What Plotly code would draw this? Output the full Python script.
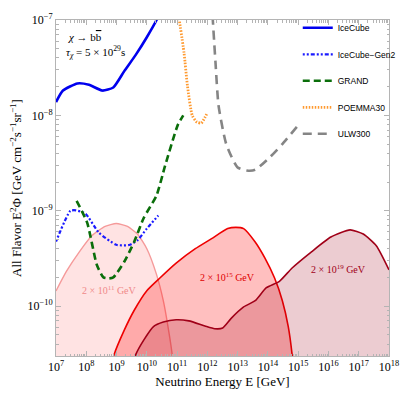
import plotly.graph_objects as go

# --- detector sensitivities (E in GeV, E^2 Phi in GeV cm^-2 s^-1 sr^-1) ---
icecube_e = [1e7, 1.7e7, 5.1e7, 1.23e8, 3.4e8, 7.8e8, 1.8e9, 4.3e9, 1e10, 2.1e10, 2.4e10]
icecube_f = [1.38e-8, 1.82e-8, 2.16e-8, 2.09e-8, 1.82e-8, 1.96e-8, 2.91e-8, 4.31e-8, 6.6e-8, 1.0e-7, 1.1e-7]

gen2_e = [1e7, 3.0e7, 4.6e7, 9.5e7, 2.6e8, 9.8e8, 2.6e9, 4.9e9, 1e10, 2.4e10]
gen2_f = [4.75e-10, 1.0e-9, 1.01e-9, 9.3e-10, 5.9e-10, 4.4e-10, 4.37e-10, 4.9e-10, 6.5e-10, 8.9e-10]

grand_e = [4.8e7, 1.07e8, 2.24e8, 3.7e8, 5.4e8, 7.8e8, 1.8e9, 3.8e9, 7.9e9, 2.1e10, 4e10, 1.05e11, 1.6e11]
grand_f = [1.27e-9, 7.5e-10, 2.7e-10, 2.0e-10, 1.95e-10, 2.0e-10, 2.92e-10, 4.7e-10, 8.4e-10, 1.45e-9, 2.95e-9, 7.9e-9, 1.0e-8]

poemma_e = [1.12e11, 1.7e11, 2.2e11, 3.16e11, 4.5e11, 6.3e11, 8.3e11, 9.8e11]
poemma_f = [1.12e-7, 4.5e-8, 2.04e-8, 1.0e-8, 8.5e-9, 8.3e-9, 9.5e-9, 1.05e-8]

ulw_e = [1.48e12, 1.86e12, 2.34e12, 4.2e12, 9.8e12, 2.0e13, 3.8e13, 1.15e14, 3.0e14, 9.1e14]
ulw_f = [1.12e-7, 3.55e-8, 1.27e-8, 5.0e-9, 2.86e-9, 2.64e-9, 2.69e-9, 3.63e-9, 5.0e-9, 7.6e-9]

# --- dark matter decay spectra for three masses ---
m11_e = [1e7, 2.2e7, 5.9e7, 1.55e8, 4.2e8, 9.8e8, 2.3e9, 4.9e9, 1e10, 2.1e10, 3.5e10, 5.0e10, 6.9e10, 7.9e10]
m11_f = [1.44e-10, 2.31e-10, 3.71e-10, 5.5e-10, 6.84e-10, 7.35e-10, 6.84e-10, 5.7e-10, 4.0e-10,
         2.14e-10, 1.14e-10, 6.1e-11, 3.1e-11, 2.0e-11]

m15_e = [7.1e8, 8.3e8, 1.8e9, 3.8e9, 1e10, 2.7e10, 9.3e10, 4.0e11, 1.38e12, 4.7e12, 8.7e12, 1.58e13,
         3.8e13, 7.9e13, 1.66e14, 3.0e14, 4.7e14, 6.3e14, 7.1e14]
m15_f = [2.5e-11, 3.1e-11, 5.6e-11, 9.0e-11, 1.45e-10, 1.97e-10, 2.82e-10, 4.0e-10, 5.1e-10, 6.5e-10,
         6.7e-10, 6.5e-10, 4.7e-10, 3.2e-10, 1.97e-10, 1.14e-10, 6.1e-11, 3.1e-11, 2.0e-11]

m19_e = [3.5e9, 4.3e9, 7.9e9, 1.66e10, 3.5e10, 9.3e10, 2.45e11, 8.3e11, 1.74e12, 3.2e12, 6.0e12, 1.58e13,
         3.8e13, 8.9e13, 2.4e14, 6.3e14, 2.75e15, 1.2e16, 5.2e16, 1.41e17, 3.8e17, 1e18]
m19_f = [2.5e-11, 3.1e-11, 4.4e-11, 6.1e-11, 6.8e-11, 7.2e-11, 7.0e-11, 6.2e-11, 5.8e-11, 5.9e-11, 7.4e-11,
         9.8e-11, 1.14e-10, 1.56e-10, 1.82e-10, 2.51e-10, 3.71e-10, 5.3e-10, 6.3e-10, 5.7e-10, 4.3e-10, 2.4e-10]

x_tick_exp = list(range(7, 19))
y_tick_exp = [-10, -9, -8, -7]

SERIF = "Liberation Serif, Times New Roman, serif"
SANS = "Liberation Sans, Arial, sans-serif"
FRAME = "#b4b4b4"
SMOOTH = 0.55

fig = go.Figure()

# filled spectra
spectra = [
    (m11_e, m11_f, "#f59a9a", "rgba(255,140,140,0.24)", 1.4),
    (m15_e, m15_f, "#ee0000", "rgba(255,0,0,0.25)", 1.6),
    (m19_e, m19_f, "#a00018", "rgba(160,0,24,0.2)", 1.6),
]
for xe, yf, lc, fc, lw in spectra:
    fig.add_trace(go.Scatter(
        x=xe, y=yf, mode="lines", fill="tozeroy", fillcolor=fc,
        line=dict(color=lc, width=lw, shape="spline", smoothing=SMOOTH),
        showlegend=False, hoverinfo="skip",
    ))

detectors = [
    ("IceCube", icecube_e, icecube_f, "#0000ee", "solid", 2.6),
    ("IceCube\u2212Gen2", gen2_e, gen2_f, "#1a1aff", "2px,2px,2px,2px,4px,2px", 2.2),
    ("GRAND", grand_e, grand_f, "#0a6e0a", "7px,4px", 2.6),
    ("POEMMA30", poemma_e, poemma_f, "#ff9a30", "1.5px,1.5px", 2.8),
    ("ULW300", ulw_e, ulw_f, "#858585", "9px,6px", 2.6),
]
for i, (name, xe, yf, col, dash, w) in enumerate(detectors):
    fig.add_trace(go.Scatter(
        x=xe, y=yf, mode="lines", name=name, legendgroup=f"g{i}",
        line=dict(color=col, dash=dash, width=w, shape="spline", smoothing=SMOOTH),
    ))

# mass labels
labels = [
    (8.76, -9.83, "2 \u00d7 10<sup>11</sup> GeV", "#f08a8a"),
    (12.66, -9.695, "2 \u00d7 10<sup>15</sup> GeV", "#e00000"),
    (16.34, -9.613, "2 \u00d7 10<sup>19</sup> GeV", "#a00018"),
]
for lx, ly, txt, col in labels:
    fig.add_annotation(x=lx, y=ly, text=txt, showarrow=False,
                       font=dict(family=SERIF, size=10, color=col))

fig.add_annotation(xref="paper", yref="paper", x=0.03, y=0.95, xanchor="left", yanchor="middle",
                   text="<i>\u03c7</i> \u2192 b<span style='text-decoration:overline'>b</span>",
                   showarrow=False, font=dict(family=SERIF, size=11, color="black"))
fig.add_annotation(xref="paper", yref="paper", x=0.025, y=0.905, xanchor="left", yanchor="middle",
                   text="<i>\u03c4<sub>\u03c7</sub></i> = 5 \u00d7 10<sup>29</sup>s",
                   showarrow=False, font=dict(family=SERIF, size=11, color="black"))

axis_common = dict(
    type="log", showgrid=False, zeroline=False,
    showline=True, linecolor=FRAME, linewidth=1, mirror="allticks",
    ticks="inside", ticklen=5, tickcolor=FRAME,
    minor=dict(ticks="inside", ticklen=2.5, tickcolor=FRAME, dtick="D1", showgrid=False),
    tickfont=dict(family=SERIF, size=12, color="black"),
)

fig.update_xaxes(
    **axis_common,
    range=[7, 18],
    tickmode="array",
    tickvals=[10 ** e for e in x_tick_exp],
    ticktext=[f"10<sup>{e}</sup>" for e in x_tick_exp],
    title=dict(text="Neutrino Energy E [GeV]", font=dict(family=SERIF, size=13, color="black"), standoff=2),
)
fig.update_yaxes(
    **axis_common,
    range=[-10.523, -7],
    tickmode="array",
    tickvals=[10.0 ** e for e in y_tick_exp],
    ticktext=[f"10<sup>\u2212{-e}</sup>" for e in y_tick_exp],
    title=dict(text="All Flavor E<sup>2</sup>\u03a6 [GeV cm<sup>\u22122</sup>s<sup>\u22121</sup>sr<sup>\u22121</sup>]",
               font=dict(family=SERIF, size=13, color="black"), standoff=2),
)

fig.update_layout(
    width=413, height=398,
    margin=dict(l=56, r=13, t=16, b=38),
    paper_bgcolor="white", plot_bgcolor="white",
    showlegend=True,
    legend=dict(x=0.726, y=1.02, xanchor="left", yanchor="top",
                bgcolor="rgba(0,0,0,0)", font=dict(family=SANS, size=8.5, color="black"),
                tracegroupgap=7.5, itemwidth=30),
)

fig.write_html("out.html", config={"displayModeBar": False},
               post_script="document.body.style.margin='0';")
